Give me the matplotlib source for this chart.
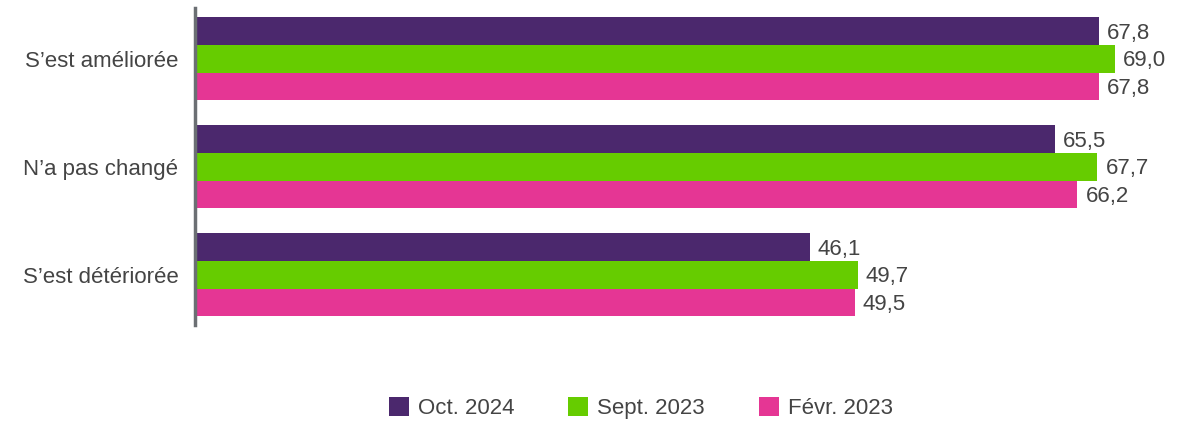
import matplotlib
matplotlib.use("Agg")
import matplotlib.pyplot as plt
import numpy as np

categories = ["S\u2019est améliorée", "N\u2019a pas changé", "S\u2019est détériorée"]
series_names = ["Oct. 2024", "Sept. 2023", "Févr. 2023"]
# bar lengths as drawn in the reference
oct_2024 = [67.8, 64.5, 46.1]
sept_2023 = [69.0, 67.7, 49.7]
fevr_2023 = [67.8, 66.2, 49.5]
# value labels as printed in the reference
oct_2024_labels = ["67,8", "65,5", "46,1"]
sept_2023_labels = ["69,0", "67,7", "49,7"]
fevr_2023_labels = ["67,8", "66,2", "49,5"]
colors = ["#4B286D", "#66CC00", "#E53694"]

plt.rcParams['font.family'] = ['Liberation Sans', 'DejaVu Sans']
text_color = "#444444"
fs = 16

fig = plt.figure(figsize=(11.88, 4.21), dpi=100)
ax = fig.add_axes([195/1188, 1-325/421, (1188-195)/1188, 317/421])

series = [oct_2024, sept_2023, fevr_2023]
labels = [oct_2024_labels, sept_2023_labels, fevr_2023_labels]
h = 0.255
y = np.arange(len(categories))
for i, (vals, labs, name, c) in enumerate(zip(series, labels, series_names, colors)):
    pos = y + (i - 1) * h
    ax.barh(pos, vals, height=h, color=c, label=name)
    for p, v, lab in zip(pos, vals, labs):
        ax.text(v + 0.6, p + 0.02, lab, va="center", ha="left",
                fontsize=fs, color=text_color)

ax.set_xlim(0, (1188-195)/13.33)
ax.set_ylim(2.465, -0.47)
ax.set_yticks(y)
ax.set_yticklabels(categories, fontsize=fs, color=text_color)
ax.tick_params(axis='y', length=0, pad=12)
ax.set_xticks([])
for s in ["top", "right", "bottom"]:
    ax.spines[s].set_visible(False)
ax.spines["left"].set_color("#6b6f73")
ax.spines["left"].set_linewidth(2.5)

leg = fig.legend(loc="center", bbox_to_anchor=(641/1188, 1-408/421), ncol=3,
                 frameon=False, fontsize=fs, handlelength=0.9, handleheight=0.9,
                 columnspacing=2.45, handletextpad=0.4)
for t in leg.get_texts():
    t.set_color(text_color)

fig.savefig("out.png", dpi=100)
